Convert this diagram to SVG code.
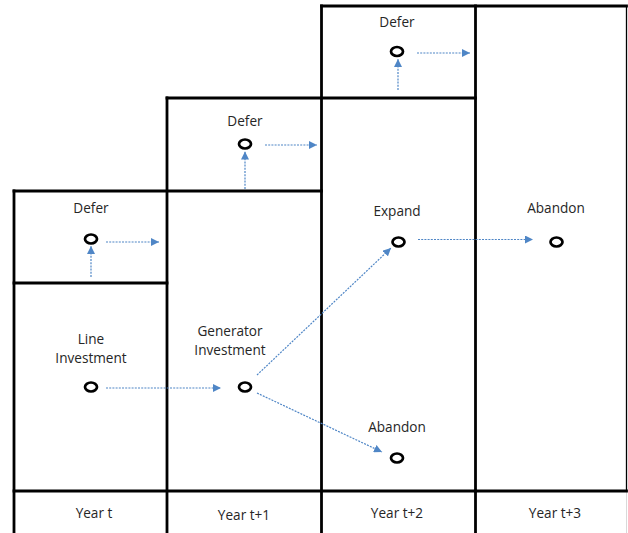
<svg xmlns="http://www.w3.org/2000/svg" width="628" height="533" viewBox="0 0 628 533">
<style>
.grid{stroke:#000;stroke-width:2.8;fill:none;stroke-linecap:square}
.thin{stroke:#000;stroke-width:1.3;fill:none}
.node{fill:none;stroke:#000;stroke-width:2.7}
.lbl{font-family:"Open Sans","Liberation Sans",sans-serif;font-size:13.6px;fill:#262626;text-anchor:middle}
.conn{stroke:#4f86c6;stroke-width:1.2;stroke-dasharray:2 1.2;fill:none}
</style>
<defs>
<marker id="ah" viewBox="0 0 10 10" refX="10" refY="5" markerWidth="8" markerHeight="8" markerUnits="userSpaceOnUse" orient="auto">
<path d="M0,0 L10,5 L0,10 z" fill="#4f86c6"/>
</marker>
</defs>
<rect width="628" height="533" fill="#fff"/>
<g id="grid">
<line class="grid" x1="14" y1="191" x2="14" y2="533"/>
<line class="grid" x1="167" y1="98" x2="167" y2="533"/>
<line class="grid" x1="321.5" y1="6" x2="321.5" y2="533"/>
<line class="grid" x1="475.5" y1="6" x2="475.5" y2="491"/>
<line class="grid" x1="475.5" y1="491" x2="475.5" y2="533"/>
<line class="thin" x1="626.5" y1="6" x2="626.5" y2="491"/>
<line x1="626.5" y1="491" x2="626.5" y2="533" stroke="#d9d9d9" stroke-width="1"/>
<line class="grid" x1="14" y1="191" x2="321.5" y2="191"/>
<line class="grid" x1="14" y1="283" x2="167" y2="283"/>
<line class="grid" x1="167" y1="98" x2="475.5" y2="98"/>
<line class="grid" x1="321.5" y1="6" x2="626.5" y2="6"/>
<line class="grid" x1="14" y1="491" x2="626.5" y2="491"/>
</g>
<g id="defer1">
<text class="lbl" x="91" y="213">Defer</text>
<ellipse class="node" cx="91" cy="239" rx="6" ry="4.5"/>
</g>
<g id="defer2">
<text class="lbl" x="245" y="126">Defer</text>
<ellipse class="node" cx="245" cy="144" rx="6" ry="4.5"/>
</g>
<g id="defer3">
<text class="lbl" x="397" y="27">Defer</text>
<ellipse class="node" cx="397" cy="51.5" rx="6" ry="4.5"/>
</g>
<g id="line-investment">
<text class="lbl" x="91" y="344">Line</text>
<text class="lbl" x="91" y="363">Investment</text>
<ellipse class="node" cx="91" cy="387" rx="6" ry="4.5"/>
</g>
<g id="generator-investment">
<text class="lbl" x="230" y="336">Generator</text>
<text class="lbl" x="230" y="355">Investment</text>
<ellipse class="node" cx="245" cy="387" rx="6" ry="4.5"/>
</g>
<g id="expand">
<text class="lbl" x="397" y="216">Expand</text>
<ellipse class="node" cx="398.5" cy="242" rx="6" ry="4.5"/>
</g>
<g id="abandon1">
<text class="lbl" x="556" y="213">Abandon</text>
<ellipse class="node" cx="556.5" cy="242" rx="6" ry="4.5"/>
</g>
<g id="abandon2">
<text class="lbl" x="397" y="432">Abandon</text>
<ellipse class="node" cx="397" cy="458" rx="6" ry="4.5"/>
</g>
<g id="year-t"><text class="lbl" x="94" y="518">Year t</text></g>
<g id="year-t1"><text class="lbl" x="244" y="520">Year t+1</text></g>
<g id="year-t2"><text class="lbl" x="397" y="518">Year t+2</text></g>
<g id="year-t3"><text class="lbl" x="555" y="518">Year t+3</text></g>
<g id="connectors">
<line class="conn" x1="91" y1="277" x2="91" y2="246" marker-end="url(#ah)"/>
<line class="conn" x1="106" y1="242" x2="159" y2="242" marker-end="url(#ah)"/>
<line class="conn" x1="245" y1="189" x2="245" y2="151.5" marker-end="url(#ah)"/>
<line class="conn" x1="265" y1="145" x2="317" y2="145" marker-end="url(#ah)"/>
<line class="conn" x1="398" y1="90" x2="398" y2="59" marker-end="url(#ah)"/>
<line class="conn" x1="417" y1="53" x2="470" y2="53" marker-end="url(#ah)"/>
<line class="conn" x1="106" y1="388" x2="221" y2="388" marker-end="url(#ah)"/>
<line class="conn" x1="257" y1="375" x2="391" y2="248" marker-end="url(#ah)"/>
<line class="conn" x1="257" y1="393" x2="382" y2="452" marker-end="url(#ah)"/>
<line class="conn" x1="418" y1="239.5" x2="533" y2="239.5" marker-end="url(#ah)"/>
</g>
</svg>
